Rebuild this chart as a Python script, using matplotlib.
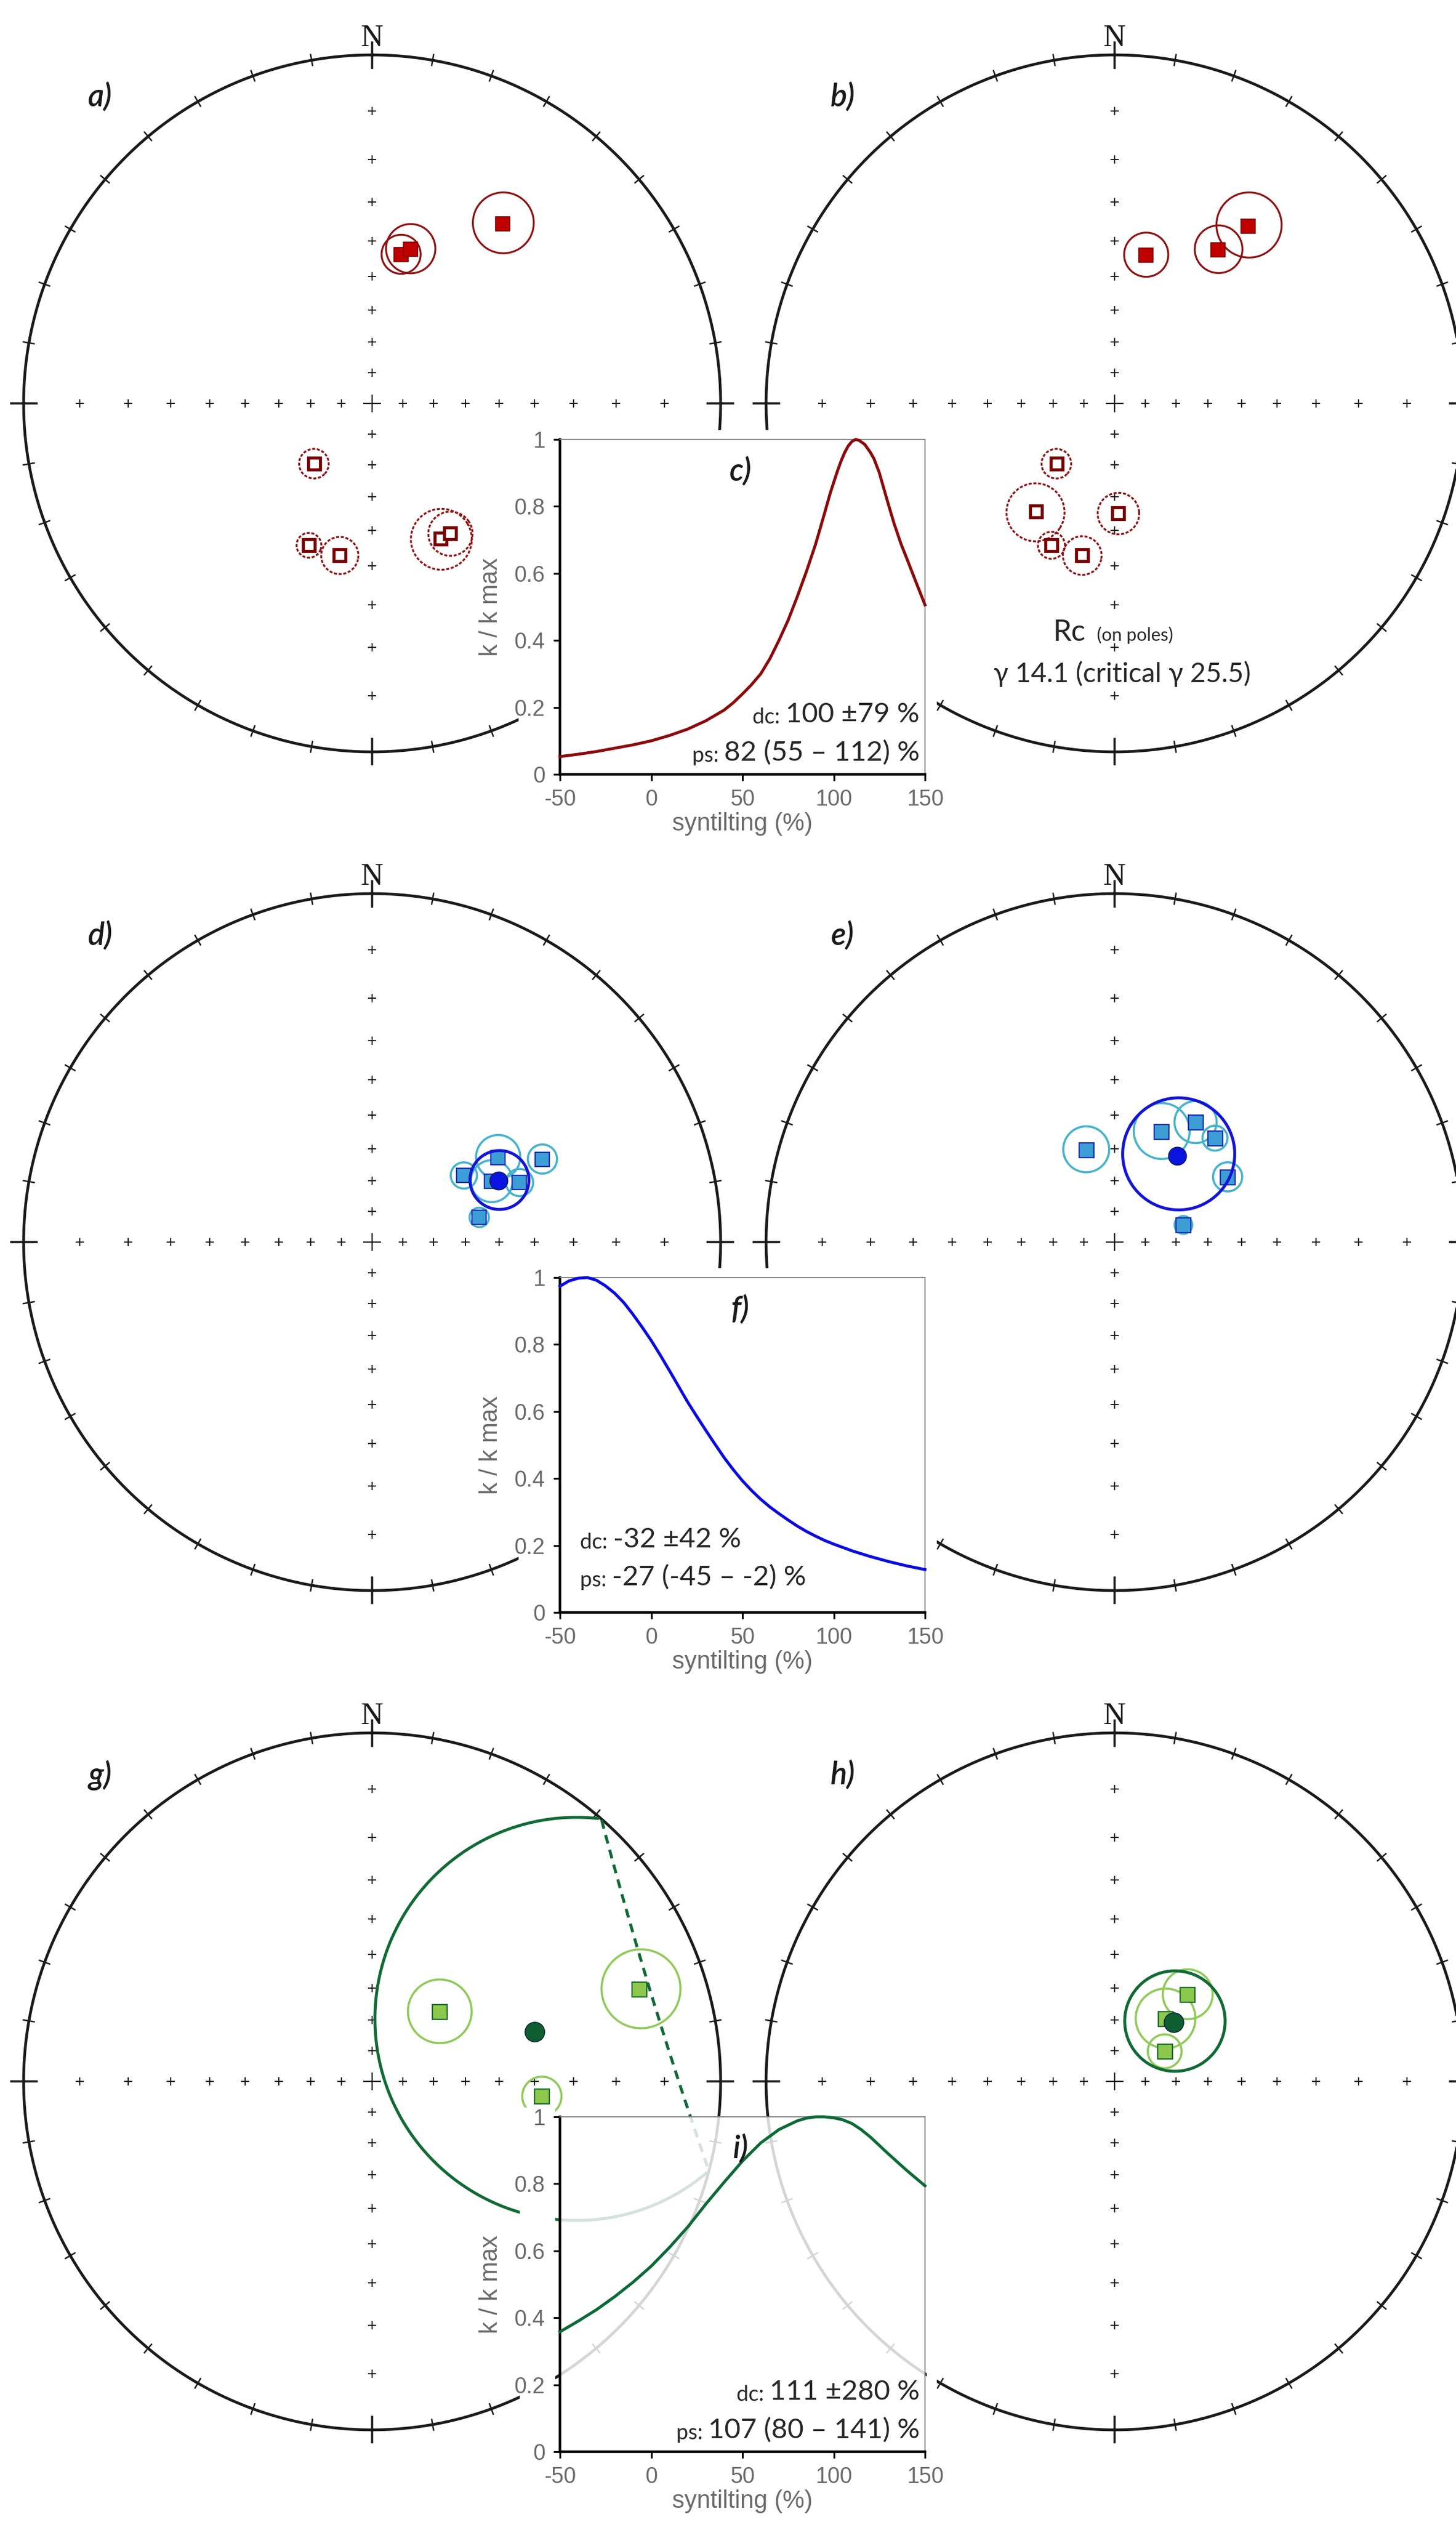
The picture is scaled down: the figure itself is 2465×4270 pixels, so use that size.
import numpy as np
import matplotlib
matplotlib.use("Agg")
import matplotlib.pyplot as plt
from matplotlib.patches import Rectangle

plt.rcParams["axes.unicode_minus"] = False

W, H = 2465, 4270
DPI = 100

# ---- site mean directions read from the nets: declination, inclination, a95 (deg) ----
# a) geographic coordinates, b) tilt corrected (red)
a_dec = [36, 11, 14, 224, 204, 192, 153, 149]
a_inc = [25, 43, 41, -63, -42, -42, -43, -43]
a_a95 = [7.1, 5.4, 6.7, 4.6, 3.4, 5.1, 8.4, 6.1]
b_dec = [12, 34, 37, 224, 216, 178, 204, 192]
b_inc = [43, 34, 25, -63, -48, -55, -42, -42]
b_a95 = [6.1, 6.1, 7.6, 4.6, 8.3, 6.2, 3.7, 5.3]

# d) / e) blue
d_dec = [54, 56, 64, 63, 68, 77]
d_inc = [54, 43, 33, 48, 41, 55]
d_a95 = [3.9, 6.1, 3.7, 6.0, 3.7, 2.9]
d_mean = [64, 46, 8.3]
e_dec = [343, 23, 34, 44, 60, 76]
e_inc = [59, 52, 45, 45, 49, 67]
e_a95 = [7.0, 8.2, 5.9, 3.5, 4.2, 2.8]
e_mean = [36, 56, 16.7]

# g) / h) green
g_dec = [44, 71, 95]
g_inc = [59, 12, 38]
g_a95 = [9.7, 7.8, 5.2]
g_mean = [73, 38, 48]
h_dec = [40, 39, 59]
h_inc = [54, 64, 71]
h_a95 = [7.4, 9.3, 5.4]
h_mean = [45, 63, 15.5]

# ---- fold test curves (k / k max against % untilting) ----
c_x = [-50, -40, -30, -20, -10, 0, 10, 20, 30, 40, 45, 50, 55, 60, 65, 70, 75, 80, 85,
       90, 95, 98, 100, 102, 104, 106, 108, 110, 112, 114, 117, 120, 122, 125, 127, 130,
       133, 137, 140, 145, 150]
c_k = [0.053, 0.060, 0.068, 0.078, 0.088, 0.100, 0.116, 0.135, 0.160, 0.192, 0.214,
       0.240, 0.268, 0.300, 0.345, 0.400, 0.460, 0.530, 0.605, 0.686, 0.780, 0.838,
       0.872, 0.905, 0.935, 0.961, 0.981, 0.994, 1.000, 0.997, 0.985, 0.962, 0.943,
       0.900, 0.862, 0.805, 0.750, 0.686, 0.645, 0.575, 0.506]
f_x = [-50, -45, -40, -35, -30, -25, -20, -15, -10, -5, 0, 5, 10, 15, 20, 25, 30, 35,
       40, 45, 50, 55, 60, 65, 70, 75, 80, 85, 90, 95, 100, 110, 120, 130, 140, 150]
f_k = [0.974, 0.990, 0.998, 1.000, 0.992, 0.975, 0.953, 0.925, 0.890, 0.852, 0.812,
       0.768, 0.722, 0.675, 0.628, 0.585, 0.543, 0.502, 0.462, 0.426, 0.393, 0.364,
       0.338, 0.315, 0.295, 0.276, 0.258, 0.242, 0.228, 0.215, 0.204, 0.184, 0.167,
       0.152, 0.139, 0.128]
i_x = [-50, -40, -30, -20, -10, 0, 10, 20, 30, 40, 50, 60, 70, 80, 85, 90, 95, 100,
       105, 110, 115, 120, 130, 140, 150]
i_k = [0.358, 0.390, 0.424, 0.463, 0.506, 0.554, 0.610, 0.671, 0.740, 0.805, 0.868,
       0.922, 0.962, 0.988, 0.996, 1.000, 1.000, 0.997, 0.991, 0.980, 0.962, 0.940,
       0.889, 0.840, 0.794]

SANS = ["Lato", "DejaVu Sans"]
ARIAL = ["Liberation Sans", "DejaVu Sans"]
GREY = "#6a6a6a"

fig = plt.figure(figsize=(W / DPI, H / DPI), dpi=DPI)

R_PX = 590
NET_CX = [630, 1887]
ROW_CY = [683, 2103, 3524]
INSET_TOP = [744, 2163, 3584]


def wulff(dec, inc):
    dec = np.radians(np.asarray(dec, float))
    inc = np.abs(np.asarray(inc, float))
    r = np.tan(np.radians(90 - inc) / 2)
    return r * np.sin(dec), r * np.cos(dec)


def small_circle(dec, inc, a95, n=361):
    D, I, a = np.radians([dec, inc, a95])
    m = np.array([np.cos(I) * np.cos(D), np.cos(I) * np.sin(D), np.sin(I)])
    ref = np.array([0, 0, 1.0]) if abs(m[2]) < 0.9 else np.array([1.0, 0, 0])
    u = np.cross(m, ref)
    u /= np.linalg.norm(u)
    v = np.cross(m, u)
    phi = np.linspace(0, 2 * np.pi, n)
    p = np.cos(a) * m[:, None] + np.sin(a) * (np.cos(phi) * u[:, None] + np.sin(phi) * v[:, None])
    decs = np.degrees(np.arctan2(p[1], p[0]))
    incs = np.degrees(np.arcsin(np.clip(p[2], -1, 1)))
    return decs, incs


def draw_circle(ax, dec, inc, a95, color, lw, dash, z):
    ds, ins = small_circle(dec, inc, a95)
    X, Y = wulff(ds, ins)
    lower = ins >= 0
    runs, cur = [], [0]
    for k in range(1, len(lower)):
        if lower[k] == lower[k - 1]:
            cur.append(k)
        else:
            runs.append(cur)
            cur = [k]
    runs.append(cur)
    if len(runs) > 1 and lower[runs[0][0]] == lower[runs[-1][0]]:
        runs[0] = runs[-1] + runs[0]
        runs.pop()
    for run in runs:
        ls = "-" if lower[run[0]] else dash
        ax.plot(X[run], Y[run], color=color, lw=lw, ls=ls, zorder=z,
                solid_capstyle="round")


def net_axes(cx, cy, tag):
    half = 1.15 * R_PX
    ax = fig.add_axes([(cx - half) / W, 1 - (cy + half) / H, 2 * half / W, 2 * half / H],
                      zorder=0)
    ax.set_xlim(-1.15, 1.15)
    ax.set_ylim(-1.15, 1.15)
    ax.axis("off")
    t = np.linspace(0, 2 * np.pi, 721)
    ax.plot(np.sin(t), np.cos(t), color="#1a1a1a", lw=3.4, zorder=2)
    for az in range(0, 360, 10):
        card = az % 90 == 0
        r0, r1 = (0.962, 1.035) if card else (0.985, 1.016)
        s, c = np.sin(np.radians(az)), np.cos(np.radians(az))
        ax.plot([r0 * s, r1 * s], [r0 * c, r1 * c], color="#1a1a1a",
                lw=2.6 if card else 1.8, zorder=2)
    for d in [0, 90, 180, 270]:
        px, py = wulff([d] * 8, [10, 20, 30, 40, 50, 60, 70, 80])
        ax.plot(px, py, ls="none", marker="+", ms=10, mew=1.4, color="#1a1a1a", zorder=2)
    ax.plot([0], [0], marker="+", ms=22, mew=1.6, color="#1a1a1a", zorder=2)
    ax.text(0, 1.025, "N", ha="center", va="baseline", fontsize=38,
            family=["Liberation Serif", "DejaVu Serif"], color="#1a1a1a")
    ax.text(-0.78, 0.88, tag, ha="center", va="center", fontsize=38, style="italic",
            weight="semibold", family=SANS, color="#1a1a1a")
    return ax


def red_net(ax, decs, incs, a95s):
    for D, I, A in zip(decs, incs, a95s):
        draw_circle(ax, D, I, A, "#8e1212", 2.3, (0, (1.6, 0.9)), 3)
    for D, I in zip(decs, incs):
        X, Y = wulff(D, I)
        if I >= 0:
            ax.plot(X, Y, marker="s", ms=17, mfc="#c00000", mec="#7a0000", mew=1.2,
                    ls="none", zorder=4)
        else:
            ax.plot(X, Y, marker="s", ms=14, mfc="white", mec="#7a0000", mew=3.8,
                    ls="none", zorder=4)


def site_net(ax, decs, incs, a95s, mean, circ_col, sq_face, sq_edge, mean_col, a95_col,
             sq_ms, mean_ms):
    for D, I, A in zip(decs, incs, a95s):
        draw_circle(ax, D, I, A, circ_col, 2.6, (0, (3, 2)), 3)
    X, Y = wulff(decs, incs)
    ax.plot(X, Y, marker="s", ms=sq_ms, mfc=sq_face, mec=sq_edge, mew=1.6, ls="none", zorder=4)
    draw_circle(ax, mean[0], mean[1], mean[2], a95_col, 3.6, (0, (3, 2.2)), 5)
    mx, my = wulff(mean[0], mean[1])
    ax.plot(mx, my, marker="o", ms=mean_ms, mfc=mean_col, mec="#0b1a3a", mew=1.0,
            ls="none", zorder=6)


def px_rect(x0, y0, x1, y1):
    fig.add_artist(Rectangle((x0 / W, 1 - y1 / H), (x1 - x0) / W, (y1 - y0) / H,
                             transform=fig.transFigure, facecolor="white",
                             edgecolor="none", zorder=1))


def two_size(ax, x, y, small, big, ha):
    if ha == "right":
        tb = ax.text(x, y, big, transform=ax.transAxes, ha="right", va="baseline",
                     fontsize=34, family=SANS, color="#262626")
        ax.annotate(small, xy=(0, 0), xycoords=tb, ha="right", va="bottom",
                    fontsize=26, family=SANS, color="#262626")
    else:
        ts = ax.text(x, y, small, transform=ax.transAxes, ha="left", va="baseline",
                     fontsize=26, family=SANS, color="#262626")
        ax.annotate(big, xy=(1, 0), xycoords=ts, ha="left", va="bottom",
                    fontsize=34, family=SANS, color="#262626")


def inset(row, xs, ks, color, tag, dc, ps, ha, ghost):
    top = INSET_TOP[row]
    x0, x1 = 948, 1566
    y1 = top + 567
    if ghost:
        px_rect(880, top - 16, 940, y1 + 130)
        px_rect(880, y1 + 3, 1586, y1 + 130)
        px_rect(1569, top - 16, 1586, y1)
    else:
        px_rect(878, top - 16, 1586, y1 + 130)
    ax = fig.add_axes([x0 / W, 1 - y1 / H, (x1 - x0) / W, 567 / H], zorder=2)
    ax.set_facecolor((1, 1, 1, 0.82) if ghost else "white")
    ax.plot(xs, ks, color=color, lw=3.6, clip_on=False, zorder=3,
            solid_joinstyle="round")
    ax.set_xlim(-50, 150)
    ax.set_ylim(0, 1)
    ax.set_xticks([-50, 0, 50, 100, 150])
    ax.set_yticks([0, 0.2, 0.4, 0.6, 0.8, 1])
    ax.set_yticklabels(["0", "0.2", "0.4", "0.6", "0.8", "1"])
    for s in ["left", "bottom"]:
        ax.spines[s].set_linewidth(3.2)
        ax.spines[s].set_color("black")
    for s in ["top", "right"]:
        ax.spines[s].set_linewidth(1.3)
        ax.spines[s].set_color("#808080")
    ax.tick_params(direction="out", length=8, width=2.2, color="black", labelsize=27,
                   labelcolor=GREY, pad=10)
    for lab in ax.get_xticklabels() + ax.get_yticklabels():
        lab.set_family(ARIAL)
    ax.set_xlabel("syntilting (%)", fontsize=30, color=GREY, family=ARIAL, labelpad=2)
    ax.set_ylabel("k / k max", fontsize=30, color=GREY, family=ARIAL, labelpad=14)
    ax.text(0.494, 0.905, tag, transform=ax.transAxes, ha="center", va="center",
            fontsize=38, style="italic", weight="semibold", family=SANS, color="#1a1a1a")
    if ha == "right":
        two_size(ax, 0.985, 0.155, "dc: ", dc, "right")
        two_size(ax, 0.985, 0.040, "ps: ", ps, "right")
    else:
        two_size(ax, 0.055, 0.190, "dc: ", dc, "left")
        two_size(ax, 0.055, 0.078, "ps: ", ps, "left")
    return ax


# ---- row 1: a) b) c) ----
ax_a = net_axes(NET_CX[0], ROW_CY[0], "a)")
red_net(ax_a, a_dec, a_inc, a_a95)
ax_b = net_axes(NET_CX[1], ROW_CY[0], "b)")
red_net(ax_b, b_dec, b_inc, b_a95)
ax_b.text(-0.083, -0.681, "Rc", ha="right", va="baseline", fontsize=36, family=SANS,
          color="#262626")
ax_b.text(-0.051, -0.681, "(on poles)", ha="left", va="baseline", fontsize=22,
          family=SANS, color="#262626")
ax_b.text(0.022, -0.80, "\u03b3 14.1 (critical \u03b3 25.5)", ha="center", va="baseline",
          fontsize=33, family=SANS, color="#262626")
inset(0, c_x, c_k, "#8b0a0a", "c)", "100 \u00b179 %", "82 (55 \u2013 112) %", "right", False)

# ---- row 2: d) e) f) ----
ax_d = net_axes(NET_CX[0], ROW_CY[1], "d)")
site_net(ax_d, d_dec, d_inc, d_a95, d_mean, "#45b3cc", "#3d9ed6", "#1c2fb8", "#0a14e0",
         "#1414d6", 17, 22)
ax_e = net_axes(NET_CX[1], ROW_CY[1], "e)")
site_net(ax_e, e_dec, e_inc, e_a95, e_mean, "#45b3cc", "#3d9ed6", "#1c2fb8", "#0a14e0",
         "#1414d6", 18, 22)
inset(1, f_x, f_k, "#0a0ae0", "f)", "-32 \u00b142 %", "-27 (-45 \u2013 -2) %", "left", False)

# ---- row 3: g) h) i) ----
ax_g = net_axes(NET_CX[0], ROW_CY[2], "g)")
site_net(ax_g, g_dec, g_inc, g_a95, g_mean, "#8fca58", "#8cc84b", "#1e6e2e", "#0e5e30",
         "#116a35", 18, 24)
ax_h = net_axes(NET_CX[1], ROW_CY[2], "h)")
site_net(ax_h, h_dec, h_inc, h_a95, h_mean, "#8fca58", "#8cc84b", "#1e6e2e", "#0e5e30",
         "#116a35", 18, 24)
inset(2, i_x, i_k, "#0b6a36", "i)", "111 \u00b1280 %", "107 (80 \u2013 141) %", "right", True)

fig.savefig("out.png", dpi=DPI)
